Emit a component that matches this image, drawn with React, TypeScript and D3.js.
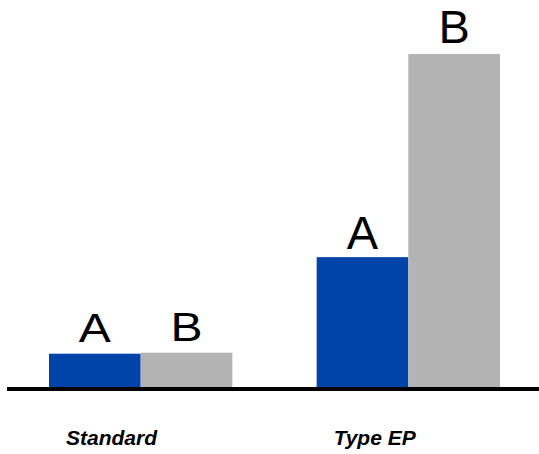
import { useRef, useEffect } from "react";
import * as d3 from "d3";

const categories = ["Standard", "Type EP"];
const seriesNames = ["A", "B"];
const valuesA = [10, 39];
const valuesB = [10.3, 100];
const seriesColors = ["#0044aa", "#b3b3b3"];

export default function App() {
  const ref = useRef<SVGSVGElement>(null);
  useEffect(() => {
    if (!ref.current) return;
    const svg = d3.select(ref.current);
    svg.selectAll("*").remove();
    const width = 539, height = 454;
    const baseY = 387;
    svg.attr("width", width).attr("height", height);

    const rows = categories.map((c, i) => ({ cat: c, vals: [valuesA[i], valuesB[i]] }));
    const x0 = d3.scaleBand().domain(categories).range([49, 500]).paddingInner(0.315).paddingOuter(0);
    const x1 = d3.scaleBand().domain(seriesNames).range([0, x0.bandwidth()]).padding(0);
    const y = d3.scaleLinear().domain([0, 100]).range([baseY, 54]);

    const groups = svg.selectAll(".grp").data(rows).join("g")
      .attr("transform", d => `translate(${x0(d.cat)},0)`);

    groups.selectAll("rect").data(d => d.vals.map((v, k) => ({ key: seriesNames[k], v, k })))
      .join("rect")
      .attr("x", d => x1(d.key)!).attr("width", x1.bandwidth())
      .attr("y", d => y(d.v)).attr("height", d => baseY - y(d.v))
      .attr("fill", d => seriesColors[d.k]);

    // series letters above bars; Standard letters are drawn smaller but wider
    groups.each(function (d, gi) {
      const g = d3.select(this);
      d.vals.forEach((v, k) => {
        const cx = x1(seriesNames[k])! + x1.bandwidth() / 2;
        const big = gi === 1;
        const gap = big ? (k === 0 ? 8 : 11) : 12;
        g.append("text")
          .attr("transform", `translate(${cx},${y(v) - gap}) scale(${big ? 1 : 1.2},1)`)
          .attr("text-anchor", "middle")
          .attr("font-family", "'Liberation Sans', Arial, sans-serif")
          .attr("font-size", big ? 47 : 40)
          .attr("fill", "#000")
          .text(seriesNames[k]);
      });
    });

    svg.append("line")
      .attr("x1", 7).attr("x2", width).attr("y1", baseY + 2).attr("y2", baseY + 2)
      .attr("stroke", "#000").attr("stroke-width", 4);

    svg.selectAll(".cat").data(categories).join("text")
      .attr("x", d => x0(d)! + 17).attr("y", 445)
      .attr("font-family", "'Liberation Sans', Arial, sans-serif")
      .attr("font-size", 21).attr("font-weight", "bold").attr("font-style", "italic")
      .attr("fill", "#000")
      .text(d => d);
  }, []);

  return <svg ref={ref} style={{ position: "absolute", left: 0, top: 0, background: "#fff" }} />;
}
